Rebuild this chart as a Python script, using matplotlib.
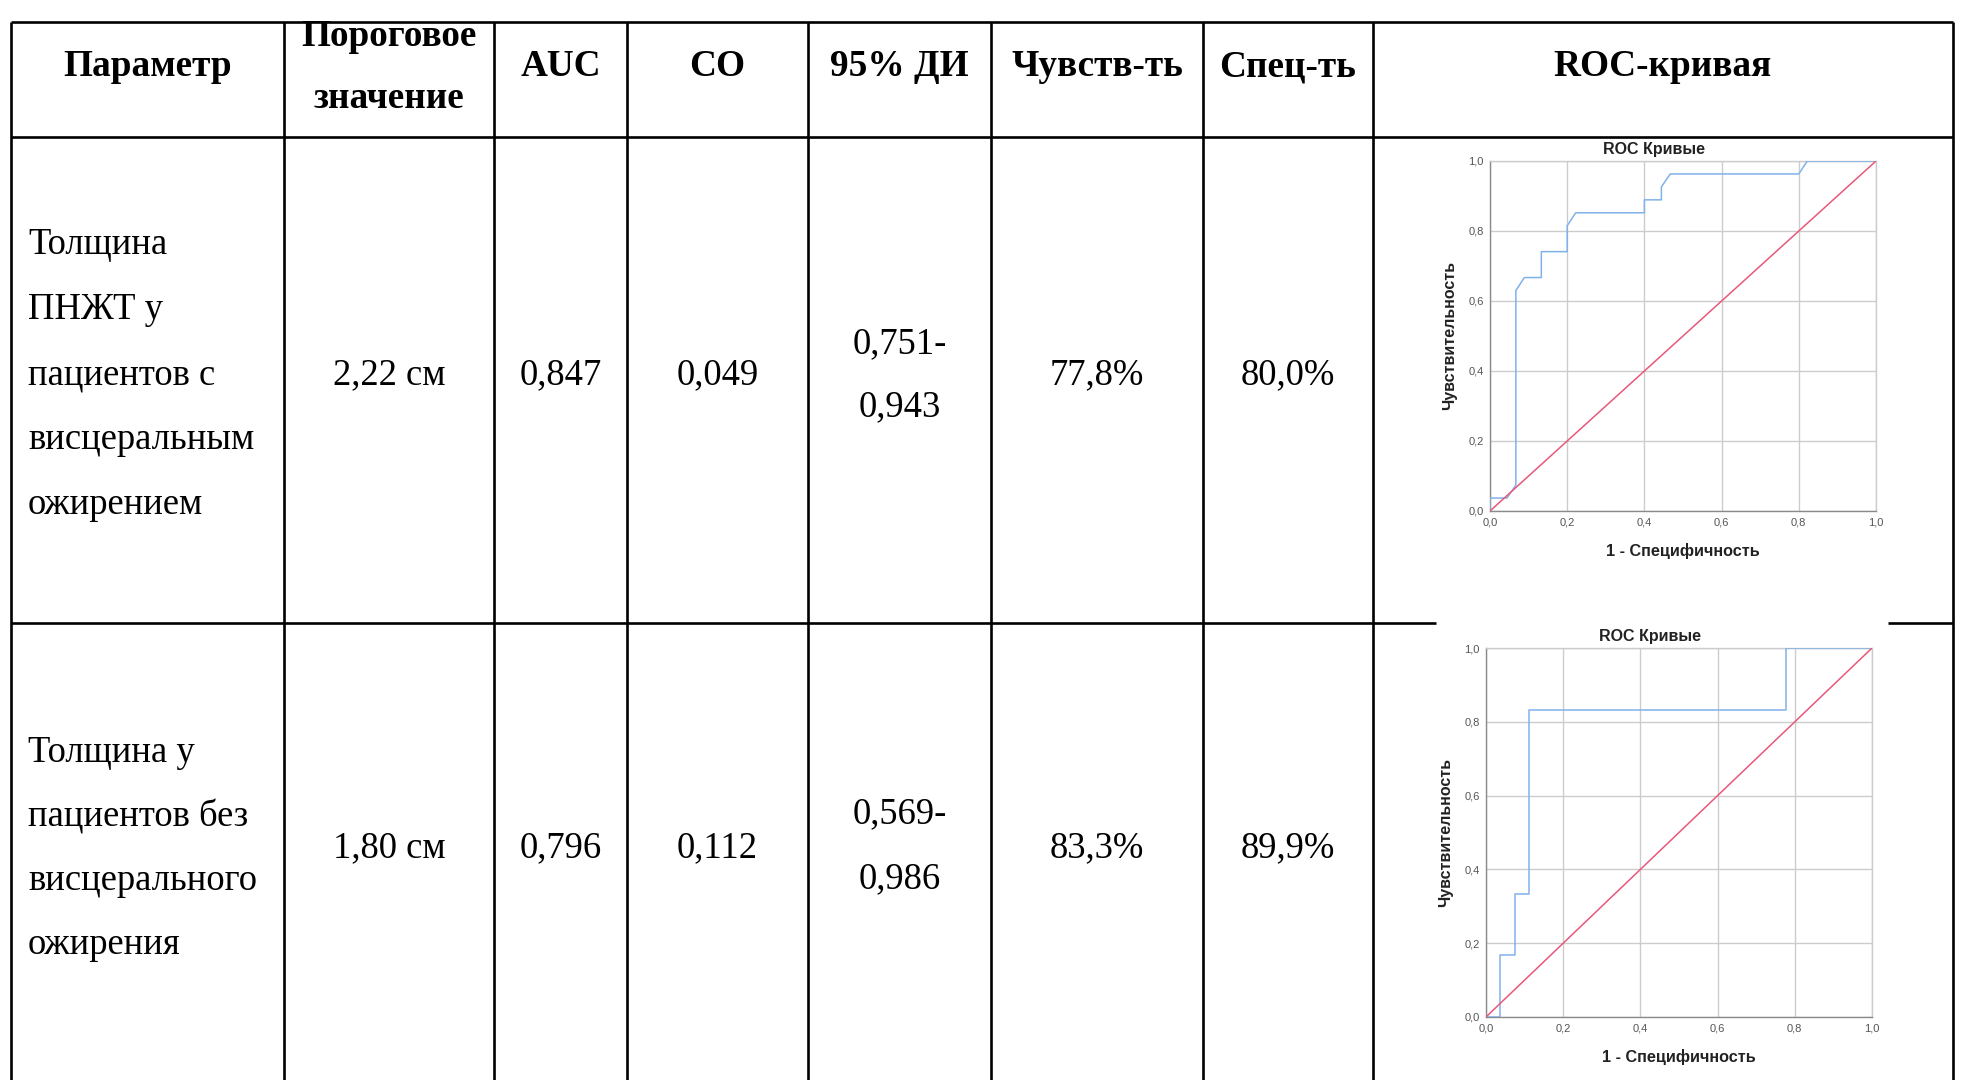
import matplotlib
matplotlib.use("Agg")
import matplotlib.pyplot as plt
from matplotlib.ticker import FuncFormatter

# ============================================================
# DADOS DA TABELA
# ============================================================

headers = ["Параметр", "Пороговое\nзначение", "AUC", "СО", "95% ДИ",
           "Чувств-ть", "Спец-ть", "ROC-кривая"]

param_lines = [
    ["Толщина", "ПНЖТ у", "пациентов с", "висцеральным", "ожирением"],
    ["Толщина у", "пациентов без", "висцерального", "ожирения"],
]
thresholds = ["2,22 см", "1,80 см"]
auc = ["0,847", "0,796"]
se = ["0,049", "0,112"]
ci = [["0,751-", "0,943"], ["0,569-", "0,986"]]
sens = ["77,8%", "83,3%"]
spec = ["80,0%", "89,9%"]

# ROC: 1 - специфичность / чувствительность
roc1_fpr = [0, 0, 0.044, 0.067, 0.067, 0.089, 0.133, 0.133, 0.2, 0.2, 0.222,
            0.4, 0.4, 0.444, 0.444, 0.467, 0.8, 0.822, 1.0]
roc1_tpr = [0, 0.037, 0.037, 0.074, 0.63, 0.667, 0.667, 0.741, 0.741, 0.815,
            0.852, 0.852, 0.889, 0.889, 0.926, 0.963, 0.963, 1.0, 1.0]

roc2_fpr = [0, 0.037, 0.037, 0.074, 0.074, 0.111, 0.111, 0.778, 0.778, 1.0]
roc2_tpr = [0, 0, 0.167, 0.167, 0.333, 0.333, 0.833, 0.833, 1.0, 1.0]

ticks = [0, 0.2, 0.4, 0.6, 0.8, 1.0]

# ============================================================
# LAYOUT (pixels)
# ============================================================

W, H = 1961, 1080
col_x = [11, 284, 494, 627, 808, 991, 1203, 1373, 1953]
y_top, y_head, y_row = 22, 137, 623
LW = 1.9
SERIF = "Liberation Serif"
SANS = "Liberation Sans"
FS = 26.4
FS_HEAD = 26.8

fig = plt.figure(figsize=(W / 100, H / 100), dpi=100)
fig.patch.set_facecolor("white")

ax = fig.add_axes([0, 0, 1, 1])
ax.set_xlim(0, W)
ax.set_ylim(H, 0)
ax.axis("off")

# linhas
for y in (y_top, y_head):
    ax.plot([col_x[0], col_x[-1]], [y, y], color="black", lw=LW, solid_capstyle="butt")
ax.plot([col_x[0], 1436], [y_row, y_row], color="black", lw=LW, solid_capstyle="butt")
ax.plot([1888, col_x[-1]], [y_row, y_row], color="black", lw=LW, solid_capstyle="butt")
for x in col_x:
    ax.plot([x, x], [y_top, H], color="black", lw=LW, solid_capstyle="butt")

centers = [(col_x[i] + col_x[i + 1]) / 2 for i in range(len(col_x) - 1)]

# cabeçalho
for i, h in enumerate(headers):
    parts = h.split("\n")
    ys = [67] if len(parts) == 1 else [36, 98]
    for p, y in zip(parts, ys):
        ax.text(centers[i], y, p, ha="center", va="center", fontsize=FS_HEAD,
                fontweight="bold", family=SERIF)

# linhas de dados
row_mid = [375, 848]
param_y0 = [245, 753]
param_step = [65, 64]
ci_y = [[344, 407], [814, 879]]
for r in range(2):
    for k, line in enumerate(param_lines[r]):
        ax.text(28, param_y0[r] + k * param_step[r], line, ha="left", va="center",
                fontsize=FS, family=SERIF)
    for c, vals in ((1, thresholds), (2, auc), (3, se), (5, sens), (6, spec)):
        ax.text(centers[c], row_mid[r], vals[r], ha="center", va="center",
                fontsize=FS, family=SERIF)
    for txt, y in zip(ci[r], ci_y[r]):
        ax.text(centers[4], y, txt, ha="center", va="center", fontsize=FS, family=SERIF)


# ============================================================
# ROC
# ============================================================

def comma(v, pos):
    return f"{v:.1f}".replace(".", ",")


def roc_plot(rect, fpr, tpr):
    l, t, r, b = rect
    a = fig.add_axes([l / W, 1 - b / H, (r - l) / W, (b - t) / H])
    a.set_xlim(0, 1)
    a.set_ylim(0, 1)
    a.set_xticks(ticks)
    a.set_yticks(ticks)
    a.xaxis.set_major_formatter(FuncFormatter(comma))
    a.yaxis.set_major_formatter(FuncFormatter(comma))
    a.grid(True, color="#cccccc", lw=1.0)
    a.set_axisbelow(True)
    for s in ("top", "right"):
        a.spines[s].set_color("#cccccc")
    for s in ("left", "bottom"):
        a.spines[s].set_color("#8a8a8a")
    for s in a.spines.values():
        s.set_linewidth(1.0)
    a.tick_params(length=0, labelsize=8, labelcolor="#555555", pad=4.5)
    a.plot(fpr, tpr, color="#80b2ea", lw=1.1, zorder=3)
    a.plot([0, 1], [0, 1], color="#e8587a", lw=1.1, zorder=3)
    a.text(0.424, 1.012, "ROC Кривые", transform=a.transAxes, ha="center",
           va="bottom", fontsize=11.5, fontweight="bold", family=SANS,
           color="#222222")
    a.set_xlabel("1 - Специфичность", fontsize=11.7, fontweight="bold",
                 family=SANS, color="#222222", labelpad=11)
    a.set_ylabel("Чувствительность", fontsize=11.5, fontweight="bold",
                 family=SANS, color="#222222", labelpad=8)
    for lab in a.get_xticklabels() + a.get_yticklabels():
        lab.set_family(SANS)
    return a


roc_plot((1490, 161, 1876, 511), roc1_fpr, roc1_tpr)
roc_plot((1486, 648, 1872, 1017), roc2_fpr, roc2_tpr)

fig.savefig("out.png", dpi=100, facecolor="white")
